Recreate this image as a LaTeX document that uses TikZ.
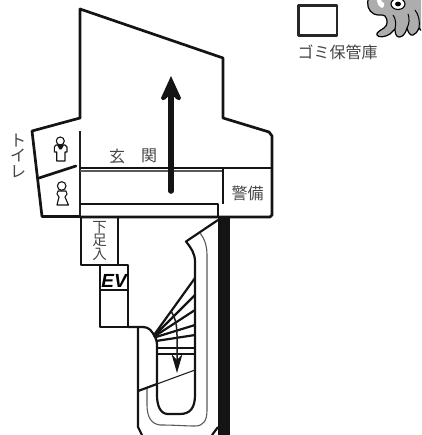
\documentclass[tikz,border=0pt]{standalone}
\usepackage{fontspec}
\newfontfamily\jp{Noto Sans CJK JP}
\newfontfamily\evfont{Liberation Sans}
\newcommand\tightlines{\lineskiplimit=-20pt\relax}
\definecolor{txt}{gray}{0.27}
\definecolor{octo}{gray}{0.68}
\tikzset{
 wall/.style={line width=2.7pt,line join=round,line cap=round,draw=black!92},
 mid/.style={line width=2.2pt,line join=round,draw=black!92},
 thin/.style={line width=1.1pt,draw=black!88},
 hair/.style={line width=1.1pt,draw=black!65},
 lab/.style={inner sep=0pt,text=txt,align=center},
 icon/.style={line width=1.1pt,draw=black!92,line join=round},
}
\begin{document}
\begin{tikzpicture}[x=1pt,y=-1pt]
\useasboundingbox (0,0) rectangle (421,435);
% outline
\draw[wall] (80,118) -- (80,9) -- (223,58) -- (223,118) -- (269,132) -- (272,136) -- (272,215) -- (270,217) -- (80,217);
\draw[wall] (80,118) -- (32,131) -- (42,216.5) -- (80,216.5);
\draw[wall] (39,178) -- (76,166);
\draw[thin,line width=1.4pt] (80,131) -- (80,217);
\draw[mid] (80,168) -- (272,168);
\draw[hair,line width=1.4pt] (80,171) -- (223,171);
\draw[mid] (223,168) -- (223,204);
\draw[mid] (80,204) -- (218,204) -- (218,217);
% shoe box & EV
\draw[mid] (81,217) -- (81,265) -- (118,265) -- (118,217);
\draw[mid] (100,265) -- (100,327) -- (128,327) -- (128,265) -- (118,265);
\draw[mid] (100,290) -- (128,290);
% black wall
\fill[black!92] (218,217) rectangle (230,435);
% stairs
\draw[mid] (218,220) -- (186,241.5) .. controls (191,248) and (195,253) .. (195,262) -- (195,395) .. controls (195,408) and (190,414) .. (180,414) -- (168,414) .. controls (160,414) and (157,405) .. (157,395) -- (157,345) .. controls (157,340) and (155,337) .. (154,335);
\draw[hair] (200,233) .. controls (204,238) and (207,245) .. (207,255) -- (207,410) .. controls (207,420) and (204,426) .. (195,426) .. controls (185,426) and (175,425) .. (160,425) .. controls (152,424) and (147,418) .. (147,405) -- (147,388);
\draw[mid] (128,327) -- (143,327) .. controls (149,327) and (152,331) .. (155,337);
\draw[mid] (138,327) -- (138,427) -- (142,435);
\draw[mid] (218,427) -- (212,435);
\draw[mid] (138,391) -- (157,384);
\draw[thin] (157,384) -- (195,370);
% fan
\draw[mid] (154,335) -- (195,278);
\draw[mid] (155,335) -- (195,295);
\draw[mid] (155,336) -- (195,310);
\draw[mid] (156,337) -- (195,325);
\draw[mid] (156,341) -- (195,335);
\draw[mid] (157,348) -- (195,348);
\draw[mid] (157,354) -- (195,354);
% stair arrow
\draw[thin,line width=1.5pt] (171,311) .. controls (175,317) and (177,325) .. (177,335) -- (177,362);
\fill[black!92] (177,373) -- (182.5,354) -- (177,360) -- (171.5,354) -- cycle;
% main arrow
\draw[line width=5.6pt,line cap=round,black!92] (171,191) -- (171,95);
\fill[black!92] (171,76) -- (181,98) .. controls (181,100) and (179,101) .. (177,99.5) -- (171,94) -- (165,99.5) .. controls (163,101) and (161,100) .. (161,98) -- cycle;
% toilet icons
\draw[icon,fill=white] (60.3,141) circle (4);
\draw[icon] (56,145) -- (65,145) -- (67,147) -- (67,152) -- (65,152) -- (65,161) -- (56.7,161) -- (56.7,152) -- (54.3,152) -- (54.3,147) -- cycle;
\fill[black!92] (57,145) -- (64,145) -- (61.5,149.5) -- (59.5,149.5) -- cycle;
\draw[icon] (61.7,186) circle (4.3);
\draw[icon] (58,191) -- (66,191) -- (67,194) -- (65,197) -- (68.5,205) -- (57,205) -- (59,197) -- (57,194) -- cycle;
% gomi box
\draw[wall,draw=black!85,line cap=butt] (298.5,5.5) rectangle (337,35.5);
% octopus
\begin{scope}
\clip (340,0) rectangle (421,42);
\draw[fill=octo,line width=1.2pt,line join=round] (369,-3) .. controls (366,4) and (368,11) .. (374,14) .. controls (378,16) and (382,14) .. (385,16) .. controls (388,20) and (388,25) .. (384,28) .. controls (379,31) and (376,33) .. (377,35) .. controls (378,38) and (386,37) .. (390,34) .. controls (393,31) and (394,30) .. (395,29) .. controls (395,33) and (396,37) .. (399,37) .. controls (402,37) and (405,35) .. (407,28) .. controls (408,32) and (410,36) .. (413,35) .. controls (416,34) and (417,32) .. (419,28) .. controls (421,31) and (424,33) .. (427,31) -- (427,-3) -- cycle;
\fill[white] (377,-1) .. controls (377,3) and (378,6) .. (382,8) .. controls (384,7) and (385,5) .. (384,3) .. controls (382,3) and (381,1) .. (381,-1) -- cycle;
\draw[line width=1pt] (395,29) .. controls (396,24) and (396,19) .. (393,15);
\draw[line width=1pt] (407,28) .. controls (409,24) and (410,19) .. (408,14);
\draw[line width=1pt] (419,28) .. controls (420,22) and (419,15) .. (415,10);
\draw[line width=1.1pt,fill=white] (398,4) ellipse (7 and 5.5);
\fill (398,4) ellipse (3 and 2.4);
\end{scope}
% labels
\node[lab,font=\jp\fontsize{16}{16}\selectfont] (gomi) at (337.5,52.5) {ゴミ保管庫};
\node[lab,font=\jp\fontsize{16}{16}\selectfont] (gen) at (117,156) {玄};
\node[lab,font=\jp\fontsize{16}{16}\selectfont] (kan) at (149,156) {関};
\node[lab,font=\jp\fontsize{16}{16}\selectfont] (kei) at (247.5,193) {警備};
\node[lab,font=\jp\fontsize{14.5}{13.4}\selectfont\tightlines] (shoe) at (99.5,241) {下\\足\\入};
\node[lab,font=\jp\fontsize{16}{15.5}\selectfont\tightlines] (toire) at (18,155.5) {ト\\イ\\レ};
\node[inner sep=0pt,text=black,font=\evfont\bfseries\itshape\fontsize{19}{19}\selectfont] (ev) at (114,280.5) {EV};
\end{tikzpicture}
\end{document}
